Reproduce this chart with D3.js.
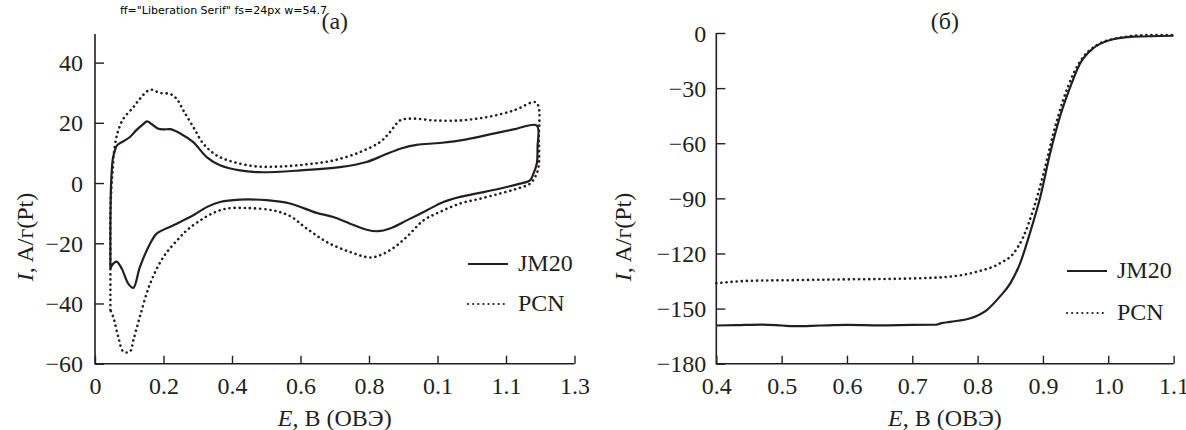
<!DOCTYPE html>
<html>
<head>
<meta charset="utf-8">
<script src="https://cdn.jsdelivr.net/npm/d3@7"></script>
</head>
<body style="margin:0">
<div id="chart"></div>
<script>
// panel (a): cyclic voltammograms, [E, I]
const cvJM20 = [
  [0.045,-28.4],[0.045,-15],[0.047,0],[0.052,8],[0.058,10.8],[0.065,12.6],[0.085,14],[0.102,15.3],
  [0.12,17.5],[0.14,19.5],[0.152,20.5],[0.165,19.6],[0.185,18],[0.2,17.8],[0.22,17.9],[0.25,16.4],
  [0.287,13.6],[0.326,8.6],[0.365,5.9],[0.423,4.2],[0.48,3.6],[0.6,4.2],[0.715,5.3],[0.793,7.0],
  [0.842,9.2],[0.891,11.4],[0.939,12.7],[1.007,13.3],[1.085,14.5],[1.163,16.4],[1.222,17.8],[1.29,19.1],
  [1.292,12],[1.29,6.5],[1.28,3.1],[1.27,0.9],[1.241,-0.2],[1.202,-1.3],[1.134,-3.0],[1.066,-4.6],
  [1.017,-6.3],[0.968,-9.1],[0.91,-12.4],[0.861,-15.1],[0.827,-16.0],[0.793,-15.5],[0.745,-13.5],
  [0.696,-11.3],[0.647,-9.9],[0.569,-6.8],[0.501,-5.7],[0.423,-5.5],[0.365,-6.3],[0.326,-8.0],
  [0.287,-10.7],[0.229,-14.0],[0.18,-16.8],[0.161,-20.1],[0.131,-27.9],[0.112,-34.8],[0.097,-33.4],
  [0.078,-28.4],[0.063,-26.1],[0.05,-27.2],[0.045,-28.4]
];
const cvPCN = [
  [0.045,-42.2],[0.045,-28],[0.045,-10],[0.048,-1.3],[0.052,5],[0.055,9.8],[0.062,15],[0.068,17.5],
  [0.083,21.4],[0.112,25.2],[0.131,28.0],[0.161,31.0],[0.19,29.9],[0.219,29.6],[0.238,28.0],[0.258,24.1],
  [0.287,18.6],[0.316,13.1],[0.355,9.2],[0.404,7.0],[0.472,5.5],[0.54,5.5],[0.618,6.2],[0.696,7.5],
  [0.774,10.3],[0.832,13.6],[0.861,16.9],[0.891,20.8],[0.93,21.4],[0.988,20.8],[1.066,20.8],[1.144,21.9],
  [1.222,24.1],[1.285,26.9],[1.295,25.4],[1.296,15],[1.295,5.3],[1.285,2.0],[1.27,-0.2],[1.231,-1.9],
  [1.182,-3.5],[1.124,-5.2],[1.066,-6.8],[1.007,-9.6],[0.959,-12.4],[0.91,-17.9],[0.861,-22.3],
  [0.808,-24.7],[0.745,-22.9],[0.677,-19.6],[0.618,-15.1],[0.57,-11],[0.52,-9.1],[0.443,-8.3],
  [0.384,-8.5],[0.346,-9.9],[0.307,-12.4],[0.268,-15.7],[0.24,-19],[0.2,-24.5],[0.161,-33.4],
  [0.131,-44.4],[0.112,-52.2],[0.102,-56.0],[0.083,-56.0],[0.068,-51.1],[0.053,-44.4],[0.045,-42.2]
];
// panel (b): oxygen reduction curves, [E, I]
const lsvJM20 = [
  [0.4,-159.2],[0.43,-159],[0.47,-158.7],[0.5,-159.2],[0.52,-159.6],[0.56,-159.2],[0.6,-158.9],
  [0.65,-159.1],[0.7,-158.9],[0.735,-158.8],[0.745,-157.9],[0.758,-157.2],[0.789,-155.3],[0.814,-150.8],
  [0.834,-143.5],[0.85,-136.3],[0.865,-125.4],[0.88,-109],[0.896,-89.1],[0.911,-65.5],[0.926,-45.6],
  [0.942,-29.2],[0.957,-16.5],[0.977,-8.3],[1.003,-3.8],[1.039,-2.0],[1.1,-1.5]
];
const lsvPCN = [
  [0.4,-136.2],[0.45,-134.9],[0.5,-134.6],[0.6,-134.1],[0.7,-133.6],[0.758,-132.6],[0.799,-129.9],
  [0.834,-125.4],[0.855,-119.9],[0.87,-110.9],[0.885,-96.4],[0.901,-76.4],[0.916,-54.6],[0.931,-36.5],
  [0.947,-21.9],[0.962,-12.9],[0.983,-6.5],[1.013,-2.9],[1.064,-1.1],[1.1,-1.1]
];

const cvXTicks = [0, 0.2, 0.4, 0.6, 0.8, 1.0, 1.2, 1.4];
const cvXLabels = ['0', '0.2', '0.4', '0.6', '0.8', '0.1', '1.1', '1.3'];
const cvYTicks = [-60, -40, -20, 0, 20, 40];
const lsvXTicks = [0.4, 0.5, 0.6, 0.7, 0.8, 0.9, 1.0, 1.1];
const lsvYTicks = [-180, -150, -120, -90, -60, -30, 0];
const seriesNames = ['JM20', 'PCN'];

const W = 1186, H = 430;
const FONT = '"Liberation Serif"';
const ink = '#231f20';
const dotted = '0.1,5';

const svg = d3.select('#chart').append('svg').attr('width', W).attr('height', H);

function txt(sel) {
  return sel.style('font-family', FONT).style('font-size', '24px').attr('fill', ink);
}

function panel(opt) {
  const g = svg.append('g');
  const x = d3.scaleLinear().domain(opt.xDomain).range([opt.left, opt.right]);
  const y = d3.scaleLinear().domain(opt.yDomain).range([opt.bottom, opt.top]);

  // axes, ticks pointing inward
  g.append('g')
    .attr('transform', `translate(0,${opt.bottom})`)
    .call(d3.axisTop(x).tickValues(opt.xTicks).tickSize(8).tickFormat((d, i) => opt.xLabels[i]))
    .call(a => a.select('.domain').remove())
    .call(a => a.selectAll('.tick line').attr('stroke', ink).attr('stroke-width', 1.4))
    .call(a => txt(a.selectAll('.tick text')).attr('y', 30).attr('dy', 0));

  g.append('g')
    .attr('transform', `translate(${opt.left},0)`)
    .call(d3.axisRight(y).tickValues(opt.yTicks).tickSize(9))
    .call(a => a.select('.domain').remove())
    .call(a => a.selectAll('.tick line').attr('stroke', ink).attr('stroke-width', 1.4))
    .call(a => txt(a.selectAll('.tick text')).attr('x', -opt.labGap).attr('dy', '0.34em')
      .attr('text-anchor', 'end'));

  g.append('path')
    .attr('d', `M${opt.left},${y(opt.yTop)}V${opt.bottom}H${opt.right}`)
    .attr('fill', 'none').attr('stroke', ink).attr('stroke-width', 1.6);

  // curves
  const line = d3.line().x(d => x(d[0])).y(d => y(d[1])).curve(opt.curve);
  g.append('path').datum(opt.solid).attr('d', line)
    .attr('fill', 'none').attr('stroke', ink).attr('stroke-width', 2.2).attr('stroke-linejoin', 'round');
  g.append('path').datum(opt.dots).attr('d', line)
    .attr('fill', 'none').attr('stroke', ink).attr('stroke-width', 2.6)
    .attr('stroke-linecap', 'round').attr('stroke-dasharray', dotted);

  // labels
  const cx = (opt.left + opt.right) / 2;
  txt(g.append('text')).attr('x', cx).attr('y', 29).attr('text-anchor', 'middle').text(opt.title);

  const xt = txt(g.append('text')).attr('x', cx).attr('y', 426).attr('text-anchor', 'middle');
  xt.append('tspan').style('font-style', 'italic').text('E');
  xt.append('tspan').text(', В (ОВЭ)');

  const yt = txt(g.append('text')).attr('transform', `translate(${opt.yTitleX},237) rotate(-90)`)
    .attr('text-anchor', 'middle');
  yt.append('tspan').style('font-style', 'italic').text('I');
  yt.append('tspan').text(', A/г(Pt)');

  // legend
  const lg = g.append('g');
  seriesNames.forEach((name, i) => {
    const ly = opt.legY[i];
    lg.append('line').attr('x1', opt.legX).attr('x2', opt.legX + 40).attr('y1', ly).attr('y2', ly)
      .attr('stroke', ink).attr('stroke-width', 2.2)
      .attr('stroke-linecap', i === 0 ? 'butt' : 'round')
      .attr('stroke-dasharray', i === 0 ? null : dotted);
    txt(lg.append('text')).attr('x', opt.legX + 50).attr('y', ly + 7).text(name);
  });
}

panel({
  left: 95, right: 574.5, top: 34, bottom: 363.7,
  xDomain: [0, 1.4], yDomain: [-60, 49.5], yTop: 49.5,
  xTicks: cvXTicks, xLabels: cvXLabels, yTicks: cvYTicks, labGap: 12,
  solid: cvJM20, dots: cvPCN, curve: d3.curveCatmullRom.alpha(0.5),
  title: '(а)', yTitleX: 33, legX: 468, legY: [264, 304]
});

panel({
  left: 716.3, right: 1173.6, top: 33, bottom: 363.7,
  xDomain: [0.4, 1.1], yDomain: [-180, 0], yTop: 0,
  xTicks: lsvXTicks, xLabels: lsvXTicks.map(d => d.toFixed(1)), yTicks: lsvYTicks, labGap: 10,
  solid: lsvJM20, dots: lsvPCN, curve: d3.curveMonotoneX,
  title: '(б)', yTitleX: 631, legX: 1067, legY: [271, 313]
});

// temporary diagnostic
const legText = svg.selectAll('text').filter(function() { return this.textContent === 'JM20'; }).node();
svg.append('text').attr('x', 120).attr('y', 14).style('font-family', '"DejaVu Sans"').style('font-size', '11px')
  .text('ff=' + getComputedStyle(legText).fontFamily + ' fs=' + getComputedStyle(legText).fontSize +
    ' w=' + legText.getComputedTextLength().toFixed(1));
</script>
</body>
</html>
